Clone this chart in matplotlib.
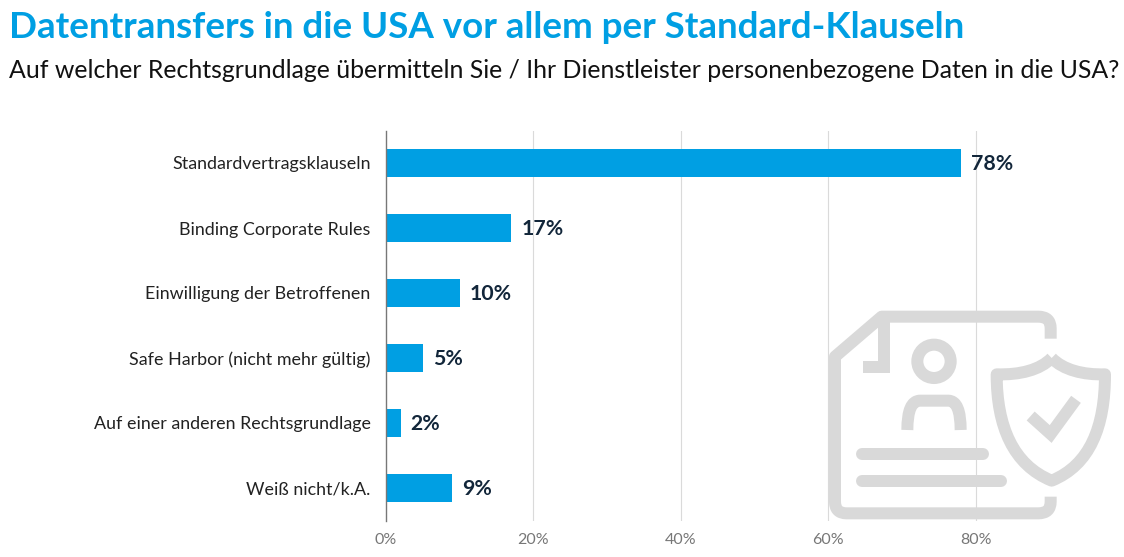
import numpy as np
import matplotlib
matplotlib.use('Agg')
import matplotlib.pyplot as plt
from matplotlib.path import Path
from matplotlib.patches import PathPatch, Circle

categories = ['Standardvertragsklauseln', 'Binding Corporate Rules', 'Einwilligung der Betroffenen',
              'Safe Harbor (nicht mehr gültig)', 'Auf einer anderen Rechtsgrundlage', 'Weiß nicht/k.A.']
values = [78, 17, 10, 5, 2, 9]
x_ticks = [0, 20, 40, 60, 80]

W, H = 1124, 557
BLUE = '#009FE3'
GREY = '#D9D9D9'
plt.rcParams['font.family'] = ['Lato', 'DejaVu Sans']

fig = plt.figure(figsize=(W / 100, H / 100), dpi=100)
ax = fig.add_axes([386 / W, 1 - 520.5 / H, (W - 386) / W, 390 / H])

y = np.arange(len(categories))
ax.barh(y, values, height=0.445, color=BLUE, zorder=3)
ax.set_xlim(0, (W - 386) / 7.37)
ax.set_ylim(5.5, -0.5)
ax.set_yticks(y)
ax.set_yticklabels(categories, fontsize=12.9, color='#222222')
ax.set_xticks(x_ticks)
ax.set_xticklabels([f'{t}%' for t in x_ticks], fontsize=11.5, color='#777777')
ax.tick_params(axis='y', length=0, pad=11)
ax.tick_params(axis='x', length=0, pad=9)
ax.grid(axis='x', color='#DADADA', linewidth=0.8, zorder=0)
for s in ['top', 'right', 'bottom']:
    ax.spines[s].set_visible(False)
ax.spines['left'].set_color('#777777')
ax.spines['left'].set_linewidth(1)
ax.spines['left'].set_zorder(4)
ax.xaxis.get_gridlines()[0].set_visible(False)

for yi, v in zip(y, values):
    ax.annotate(f'{v}%', (v, yi), xytext=(10, -1), textcoords='offset pixels',
                va='center', ha='left', fontsize=15.3, fontweight='bold', color='#12263A', zorder=5)

fig.text(9 / W, 1 - 28 / H, 'Datentransfers in die USA vor allem per Standard-Klauseln',
         fontsize=26.5, fontweight='bold', color=BLUE, va='center', ha='left')
fig.text(9 / W, 1 - 71 / H, 'Auf welcher Rechtsgrundlage übermitteln Sie / Ihr Dienstleister personenbezogene Daten in die USA?',
         fontsize=17.9, color='#111111', va='center', ha='left')

# Icon, drawn in pixel coordinates of the picture
icon = fig.add_axes([0, 0, 1, 1], facecolor='none')
icon.set_xlim(0, W)
icon.set_ylim(H, 0)
icon.axis('off')


def zp(points):
    return [(800 + a / 3, 290 + b / 3) for a, b in points]


def stroke(points, codes=None, cap='butt', join='round', lw=12):
    p = Path(zp(points), codes)
    icon.add_patch(PathPatch(p, fill=False, edgecolor=GREY, linewidth=lw * 0.72,
                             capstyle=cap, joinstyle=join, zorder=2))


M, L, C = Path.MOVETO, Path.LINETO, Path.CURVE3
C4 = Path.CURVE4

# page outline
stroke([(752, 146), (752, 115), (752, 80), (715, 80), (245, 80), (105, 200), (105, 635), (105, 670), (140, 670),
        (715, 670), (752, 670), (752, 635), (752, 620)],
       [M, L, C, C, L, L, L, C, C, L, C, C, L])
# folded corner
stroke([(252, 85), (252, 232), (188, 232)], [M, L, L], join='miter')
# person
icon.add_patch(Circle(zp([(402, 214)])[0], 50 / 3, fill=False, edgecolor=GREY, linewidth=12 * 0.72, zorder=2))
stroke([(322, 420), (322, 332), (360, 332), (445, 332), (482, 332), (482, 420)], [M, C, L, L, C, L])
# text lines
stroke([(186, 492), (548, 492)], [M, L], cap='round')
stroke([(186, 573), (602, 573)], [M, L], cap='round')
# shield
stroke([(755, 204), (720, 240), (660, 255), (590, 253),
        (590, 410), (640, 525), (755, 572),
        (870, 525), (915, 410), (915, 253),
        (850, 255), (790, 240), (755, 204)],
       [M, C4, C4, C4, C4, C4, C4, C4, C4, C4, C4, C4, C4], join='round')
# check mark
stroke([(692, 378), (752, 432), (828, 328)], [M, L, L], join='miter')

fig.savefig('out.png', dpi=100)
